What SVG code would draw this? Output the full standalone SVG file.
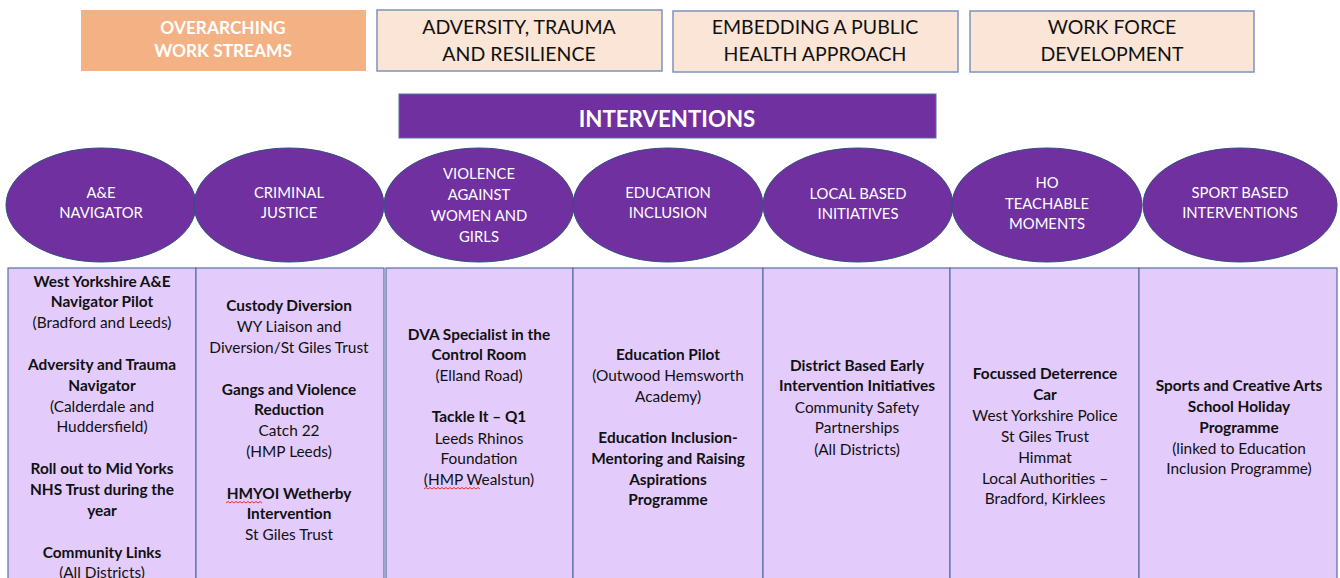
<svg xmlns="http://www.w3.org/2000/svg" width="1340" height="578" viewBox="0 0 1340 578">
<style>
text{font-family:Lato,"Open Sans","Liberation Sans",sans-serif;text-anchor:middle}
.ws{fill:#FBE5D6;stroke:#7F93BF;stroke-width:1.5}
.wst{font-size:19.5px;fill:#111}
.ell{fill:#7030A0;stroke:#2F5080;stroke-width:1}
.et{font-size:14.8px;fill:#fff}
.cell{fill:#E3CCFC;stroke:#5B6FA3;stroke-width:1.2}
.b{font-size:15.4px;font-weight:bold;fill:#111}
.r{font-size:15.4px;fill:#111}
.sq{fill:none;stroke:#E03030;stroke-width:1}
</style>
<rect width="1340" height="578" fill="#fff"/>
<g id="overarching">
<rect x="81" y="10" width="285" height="61" fill="#F4B183"/>
<text x="223" y="34" font-size="17.3" font-weight="bold" fill="#fff">OVERARCHING</text>
<text x="223" y="57" font-size="17.3" font-weight="bold" fill="#fff">WORK STREAMS</text>
</g>
<g id="ws-adversity">
<rect class="ws" x="377" y="10" width="285" height="61"/>
<text class="wst" x="519" y="34">ADVERSITY, TRAUMA</text>
<text class="wst" x="519" y="61">AND RESILIENCE</text>
</g>
<g id="ws-public-health">
<rect class="ws" x="673" y="11" width="285" height="61"/>
<text class="wst" x="815" y="34">EMBEDDING A PUBLIC</text>
<text class="wst" x="815" y="61">HEALTH APPROACH</text>
</g>
<g id="ws-workforce">
<rect class="ws" x="970" y="11" width="284" height="61"/>
<text class="wst" x="1112" y="34">WORK FORCE</text>
<text class="wst" x="1112" y="61">DEVELOPMENT</text>
</g>
<g id="interventions">
<rect x="399" y="94" width="537" height="44" fill="#7030A0" stroke="#5B6FA3" stroke-width="1"/>
<text x="667" y="127" font-size="22.3" font-weight="bold" fill="#fff">INTERVENTIONS</text>
</g>
<g id="table">
<rect class="cell" x="8" y="268" width="188" height="316"/>
<rect class="cell" x="196" y="268" width="188" height="316"/>
<rect class="cell" x="386" y="268" width="187" height="316"/>
<rect class="cell" x="573" y="268" width="190" height="316"/>
<rect class="cell" x="763" y="268" width="187" height="316"/>
<rect class="cell" x="950" y="268" width="189" height="316"/>
<rect class="cell" x="1139" y="268" width="198" height="316"/>
</g>
<g id="ae-navigator">
<ellipse class="ell" cx="101" cy="205" rx="95" ry="57"/>
<text class="et" x="101" y="198">A&amp;E</text>
<text class="et" x="101" y="218">NAVIGATOR</text>
<text class="b" x="102" y="287">West Yorkshire A&amp;E</text>
<text class="b" x="102" y="307">Navigator Pilot</text>
<text class="r" x="102" y="328">(Bradford and Leeds)</text>
<text class="b" x="102" y="370">Adversity and Trauma</text>
<text class="b" x="102" y="391">Navigator</text>
<text class="r" x="102" y="412">(Calderdale and</text>
<text class="r" x="102" y="432">Huddersfield)</text>
<text class="b" x="102" y="474">Roll out to Mid Yorks</text>
<text class="b" x="102" y="495">NHS Trust  during the</text>
<text class="b" x="102" y="516">year</text>
<text class="b" x="102" y="558">Community Links</text>
<text class="r" x="102" y="578">(All Districts)</text>
</g>
<g id="criminal-justice">
<ellipse class="ell" cx="289" cy="205" rx="95" ry="57"/>
<text class="et" x="289" y="198">CRIMINAL</text>
<text class="et" x="289" y="218">JUSTICE</text>
<text class="b" x="289" y="311">Custody Diversion</text>
<text class="r" x="289" y="332">WY Liaison and</text>
<text class="r" x="289" y="353">Diversion/St Giles Trust</text>
<text class="b" x="289" y="395">Gangs and Violence</text>
<text class="b" x="289" y="415">Reduction</text>
<text class="r" x="289" y="436">Catch 22</text>
<text class="r" x="289" y="457">(HMP Leeds)</text>
<text class="b" x="289" y="499">HMYOI Wetherby</text>
<text class="b" x="289" y="519">Intervention</text>
<text class="r" x="289" y="540">St Giles Trust</text>
<path class="sq" d="M226 503 l2 -1.5 2 1.5 2 -1.5 2 1.5 2 -1.5 2 1.5 2 -1.5 2 1.5 2 -1.5 2 1.5 2 -1.5 2 1.5 2 -1.5 2 1.5 2 -1.5 2 1.5 2 -1.5 2 1.5"/>
</g>
<g id="vawg">
<ellipse class="ell" cx="479" cy="205" rx="95" ry="57"/>
<text class="et" x="479" y="179">VIOLENCE</text>
<text class="et" x="479" y="200">AGAINST</text>
<text class="et" x="479" y="221">WOMEN AND</text>
<text class="et" x="479" y="242">GIRLS</text>
<text class="b" x="479" y="340">DVA Specialist in the</text>
<text class="b" x="479" y="360">Control Room</text>
<text class="r" x="479" y="381">(Elland Road)</text>
<text class="b" x="479" y="422">Tackle It – Q1</text>
<text class="r" x="479" y="444">Leeds Rhinos</text>
<text class="r" x="479" y="464">Foundation</text>
<text class="r" x="479" y="485">(HMP Wealstun)</text>
<path class="sq" d="M424 489 l2 -1.5 2 1.5 2 -1.5 2 1.5 2 -1.5 2 1.5 2 -1.5 2 1.5 2 -1.5 2 1.5 2 -1.5 2 1.5 2 -1.5 2 1.5 2 -1.5 2 1.5 2 -1.5 2 1.5 2 -1.5 2 1.5 2 -1.5 2 1.5 2 -1.5 2 1.5 2 -1.5 2 1.5 2 -1.5 2 1.5"/>
</g>
<g id="education-inclusion">
<ellipse class="ell" cx="668" cy="205" rx="95" ry="57"/>
<text class="et" x="668" y="198">EDUCATION</text>
<text class="et" x="668" y="218">INCLUSION</text>
<text class="b" x="668" y="360">Education Pilot</text>
<text class="r" x="668" y="381">(Outwood Hemsworth</text>
<text class="r" x="668" y="402">Academy)</text>
<text class="b" x="668" y="443">Education Inclusion-</text>
<text class="b" x="668" y="464">Mentoring and Raising</text>
<text class="b" x="668" y="485">Aspirations</text>
<text class="b" x="668" y="505">Programme</text>
</g>
<g id="local-based">
<ellipse class="ell" cx="858" cy="205" rx="95" ry="57"/>
<text class="et" x="858" y="199">LOCAL BASED</text>
<text class="et" x="858" y="219">INITIATIVES</text>
<text class="b" x="857" y="371">District Based Early</text>
<text class="b" x="857" y="391">Intervention Initiatives</text>
<text class="r" x="857" y="413">Community Safety</text>
<text class="r" x="857" y="433">Partnerships</text>
<text class="r" x="857" y="455">(All Districts)</text>
</g>
<g id="ho-teachable">
<ellipse class="ell" cx="1047" cy="205" rx="95" ry="57"/>
<text class="et" x="1047" y="188">HO</text>
<text class="et" x="1047" y="209">TEACHABLE</text>
<text class="et" x="1047" y="229">MOMENTS</text>
<text class="b" x="1045" y="379">Focussed Deterrence</text>
<text class="b" x="1045" y="400">Car</text>
<text class="r" x="1045" y="421">West Yorkshire Police</text>
<text class="r" x="1045" y="442">St Giles Trust</text>
<text class="r" x="1045" y="463">Himmat</text>
<text class="r" x="1045" y="484">Local Authorities –</text>
<text class="r" x="1045" y="504">Bradford, Kirklees</text>
</g>
<g id="sport-based">
<ellipse class="ell" cx="1240" cy="205" rx="97" ry="57"/>
<text class="et" x="1240" y="198">SPORT BASED</text>
<text class="et" x="1240" y="218">INTERVENTIONS</text>
<text class="b" x="1239" y="391">Sports and Creative Arts</text>
<text class="b" x="1239" y="412">School Holiday</text>
<text class="b" x="1239" y="433">Programme</text>
<text class="r" x="1239" y="454">(linked to Education</text>
<text class="r" x="1239" y="474">Inclusion  Programme)</text>
</g>
<g id="connectors"/>
</svg>
